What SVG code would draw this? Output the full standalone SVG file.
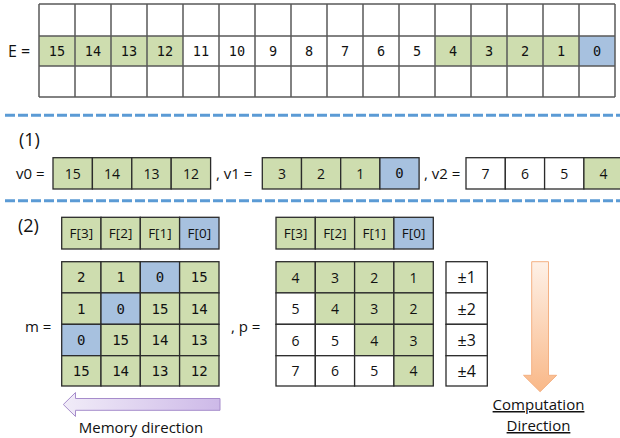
<svg xmlns="http://www.w3.org/2000/svg" width="620" height="438" viewBox="0 0 620 438">
  <style>
    .lbl { font-family: "Open Sans", "Noto Sans", sans-serif; fill: #111; }
    .mono { font-family: "DejaVu Sans Mono", "Liberation Mono", monospace; fill: #111; text-anchor: middle; }
    .num { font-family: "Open Sans", "Noto Sans", sans-serif; fill: #111; text-anchor: middle; font-size: 14px; }
    .fl { font-size: 13.5px; }
    .pm { font-size: 16px; }
    .g { fill: #CEDDAF; }
    .b { fill: #A7C1DF; }
    .w { fill: #FFFFFF; }
    .grid { fill: none; stroke: #5A5A5A; stroke-width: 1.5; }
    .box { stroke: #2B2B2B; stroke-width: 1.3; }
    .sep { stroke: #5B9BD5; stroke-width: 3; stroke-dasharray: 10 3; fill: none; }
  </style>
  <defs>
    <linearGradient id="memGrad" x1="0" y1="0" x2="1" y2="0">
      <stop offset="0" stop-color="#F1ECF8"/>
      <stop offset="1" stop-color="#CDB9E8"/>
    </linearGradient>
    <linearGradient id="compGrad" x1="0" y1="0" x2="0" y2="1">
      <stop offset="0" stop-color="#FEF1E7"/>
      <stop offset="1" stop-color="#F9B888"/>
    </linearGradient>
  </defs>

  <rect width="620" height="438" fill="#FFFFFF"/>

  <!-- E array: 16 columns x 3 rows -->
  <g id="arrayE">
    <text class="lbl" x="8" y="57" font-size="16">E =</text>
    <rect class="g" x="39" y="36" width="144" height="30"/>
    <rect class="g" x="435" y="36" width="144" height="30"/>
    <rect class="b" x="579" y="36" width="36" height="30"/>
    <path class="grid" d="M39 4H615M39 36H615M39 66H615M39 97H615
      M39 4V97M75 4V97M111 4V97M147 4V97M183 4V97M219 4V97M255 4V97M291 4V97
      M327 4V97M363 4V97M399 4V97M435 4V97M471 4V97M507 4V97M543 4V97M579 4V97M615 4V97"/>
    <g font-size="13.5">
      <text class="mono" x="57" y="56">15</text>
      <text class="mono" x="93" y="56">14</text>
      <text class="mono" x="129" y="56">13</text>
      <text class="mono" x="165" y="56">12</text>
      <text class="mono" x="201" y="56">11</text>
      <text class="mono" x="237" y="56">10</text>
      <text class="mono" x="273" y="56">9</text>
      <text class="mono" x="309" y="56">8</text>
      <text class="mono" x="345" y="56">7</text>
      <text class="mono" x="381" y="56">6</text>
      <text class="mono" x="417" y="56">5</text>
      <text class="mono" x="453" y="56">4</text>
      <text class="mono" x="489" y="56">3</text>
      <text class="mono" x="525" y="56">2</text>
      <text class="mono" x="561" y="56">1</text>
      <text class="mono" x="597" y="56">0</text>
    </g>
  </g>

  <!-- section separators -->
  <g id="separators">
    <line class="sep" x1="5" y1="115.3" x2="620" y2="115.3"/>
    <line class="sep" x1="5" y1="200.7" x2="620" y2="200.7"/>
  </g>

  <!-- (1) vectors -->
  <g id="step1">
    <text class="lbl" x="19" y="146" font-size="18">(1)</text>
    <text class="lbl" x="16" y="178.5" font-size="15">v0 =</text>
    <text class="lbl" x="216" y="178.5" font-size="15">, v1 =</text>
    <text class="lbl" x="424" y="178.5" font-size="15">, v2 =</text>
  </g>
  <g id="v0">
    <rect class="g box" x="53" y="157.7" width="39.4" height="31.3"/>
    <rect class="g box" x="92.4" y="157.7" width="39.4" height="31.3"/>
    <rect class="g box" x="131.8" y="157.7" width="39.4" height="31.3"/>
    <rect class="g box" x="171.2" y="157.7" width="39.4" height="31.3"/>
    <text class="num" x="72.7" y="178.5">15</text>
    <text class="num" x="112.1" y="178.5">14</text>
    <text class="num" x="151.5" y="178.5">13</text>
    <text class="num" x="190.9" y="178.5">12</text>
  </g>
  <g id="v1">
    <rect class="g box" x="262.3" y="157.7" width="39.2" height="31.3"/>
    <rect class="g box" x="301.5" y="157.7" width="39.2" height="31.3"/>
    <rect class="g box" x="340.7" y="157.7" width="39.2" height="31.3"/>
    <rect class="b box" x="379.9" y="157.7" width="39.2" height="31.3"/>
    <text class="num" x="281.9" y="178.5">3</text>
    <text class="num" x="321.1" y="178.5">2</text>
    <text class="num" x="360.3" y="178.5">1</text>
    <text class="mono" x="399.5" y="178" font-size="14">0</text>
  </g>
  <g id="v2">
    <rect class="w box" x="466" y="157.7" width="39.3" height="31.3"/>
    <rect class="w box" x="505.3" y="157.7" width="39.3" height="31.3"/>
    <rect class="w box" x="544.6" y="157.7" width="39.3" height="31.3"/>
    <rect class="g box" x="583.9" y="157.7" width="39.3" height="31.3"/>
    <text class="num" x="485.6" y="178.5">7</text>
    <text class="num" x="524.9" y="178.5">6</text>
    <text class="num" x="564.2" y="178.5">5</text>
    <text class="num" x="603.5" y="178.5">4</text>
  </g>

  <!-- (2) matrices -->
  <g id="step2">
    <text class="lbl" x="18" y="232" font-size="18">(2)</text>
    <text class="lbl" x="25" y="331.5" font-size="15">m =</text>
    <text class="lbl" x="231" y="331.5" font-size="15">, p =</text>
  </g>

  <g id="filtersM">
    <rect class="g box" x="61.7" y="217.3" width="39.3" height="31.7"/>
    <rect class="g box" x="101" y="217.3" width="39.3" height="31.7"/>
    <rect class="g box" x="140.3" y="217.3" width="39.3" height="31.7"/>
    <rect class="b box" x="179.6" y="217.3" width="39.4" height="31.7"/>
    <text class="num fl" x="81.3" y="238">F[3]</text>
    <text class="num fl" x="120.6" y="238">F[2]</text>
    <text class="num fl" x="159.9" y="238">F[1]</text>
    <text class="num fl" x="199.3" y="238">F[0]</text>
  </g>

  <g id="matrixM" font-size="14">
    <rect class="g box" x="61.7" y="261.7" width="39.3" height="31.2"/>
    <rect class="g box" x="101" y="261.7" width="39.3" height="31.2"/>
    <rect class="b box" x="140.3" y="261.7" width="39.3" height="31.2"/>
    <rect class="g box" x="179.6" y="261.7" width="39.4" height="31.2"/>
    <rect class="g box" x="61.7" y="292.9" width="39.3" height="31.4"/>
    <rect class="b box" x="101" y="292.9" width="39.3" height="31.4"/>
    <rect class="g box" x="140.3" y="292.9" width="39.3" height="31.4"/>
    <rect class="g box" x="179.6" y="292.9" width="39.4" height="31.4"/>
    <rect class="b box" x="61.7" y="324.3" width="39.3" height="31.4"/>
    <rect class="g box" x="101" y="324.3" width="39.3" height="31.4"/>
    <rect class="g box" x="140.3" y="324.3" width="39.3" height="31.4"/>
    <rect class="g box" x="179.6" y="324.3" width="39.4" height="31.4"/>
    <rect class="g box" x="61.7" y="355.7" width="39.3" height="30.3"/>
    <rect class="g box" x="101" y="355.7" width="39.3" height="30.3"/>
    <rect class="g box" x="140.3" y="355.7" width="39.3" height="30.3"/>
    <rect class="g box" x="179.6" y="355.7" width="39.4" height="30.3"/>
    <text class="mono" x="81.3" y="282">2</text>
    <text class="mono" x="120.6" y="282">1</text>
    <text class="mono" x="159.9" y="282">0</text>
    <text class="mono" x="199.3" y="282">15</text>
    <text class="mono" x="81.3" y="313.5">1</text>
    <text class="mono" x="120.6" y="313.5">0</text>
    <text class="mono" x="159.9" y="313.5">15</text>
    <text class="mono" x="199.3" y="313.5">14</text>
    <text class="mono" x="81.3" y="345">0</text>
    <text class="mono" x="120.6" y="345">15</text>
    <text class="mono" x="159.9" y="345">14</text>
    <text class="mono" x="199.3" y="345">13</text>
    <text class="mono" x="81.3" y="375.8">15</text>
    <text class="mono" x="120.6" y="375.8">14</text>
    <text class="mono" x="159.9" y="375.8">13</text>
    <text class="mono" x="199.3" y="375.8">12</text>
  </g>

  <g id="filtersP">
    <rect class="g box" x="276" y="217.3" width="39.3" height="31.7"/>
    <rect class="g box" x="315.3" y="217.3" width="39.3" height="31.7"/>
    <rect class="g box" x="354.6" y="217.3" width="39.3" height="31.7"/>
    <rect class="b box" x="393.9" y="217.3" width="39.4" height="31.7"/>
    <text class="num fl" x="295.6" y="238">F[3]</text>
    <text class="num fl" x="334.9" y="238">F[2]</text>
    <text class="num fl" x="374.2" y="238">F[1]</text>
    <text class="num fl" x="413.6" y="238">F[0]</text>
  </g>

  <g id="matrixP">
    <rect class="g box" x="276" y="261.7" width="39.3" height="31.2"/>
    <rect class="g box" x="315.3" y="261.7" width="39.3" height="31.2"/>
    <rect class="g box" x="354.6" y="261.7" width="39.3" height="31.2"/>
    <rect class="g box" x="393.9" y="261.7" width="39.4" height="31.2"/>
    <rect class="w box" x="276" y="292.9" width="39.3" height="31.4"/>
    <rect class="g box" x="315.3" y="292.9" width="39.3" height="31.4"/>
    <rect class="g box" x="354.6" y="292.9" width="39.3" height="31.4"/>
    <rect class="g box" x="393.9" y="292.9" width="39.4" height="31.4"/>
    <rect class="w box" x="276" y="324.3" width="39.3" height="31.4"/>
    <rect class="w box" x="315.3" y="324.3" width="39.3" height="31.4"/>
    <rect class="g box" x="354.6" y="324.3" width="39.3" height="31.4"/>
    <rect class="g box" x="393.9" y="324.3" width="39.4" height="31.4"/>
    <rect class="w box" x="276" y="355.7" width="39.3" height="30.3"/>
    <rect class="w box" x="315.3" y="355.7" width="39.3" height="30.3"/>
    <rect class="w box" x="354.6" y="355.7" width="39.3" height="30.3"/>
    <rect class="g box" x="393.9" y="355.7" width="39.4" height="30.3"/>
    <text class="num" x="295.6" y="282.5">4</text>
    <text class="num" x="334.9" y="282.5">3</text>
    <text class="num" x="374.2" y="282.5">2</text>
    <text class="num" x="413.6" y="282.5">1</text>
    <text class="num" x="295.6" y="314">5</text>
    <text class="num" x="334.9" y="314">4</text>
    <text class="num" x="374.2" y="314">3</text>
    <text class="num" x="413.6" y="314">2</text>
    <text class="num" x="295.6" y="345.5">6</text>
    <text class="num" x="334.9" y="345.5">5</text>
    <text class="num" x="374.2" y="345.5">4</text>
    <text class="num" x="413.6" y="345.5">3</text>
    <text class="num" x="295.6" y="376">7</text>
    <text class="num" x="334.9" y="376">6</text>
    <text class="num" x="374.2" y="376">5</text>
    <text class="num" x="413.6" y="376">4</text>
  </g>

  <g id="offsets">
    <rect class="w box" x="446" y="261.7" width="41.3" height="31.2"/>
    <rect class="w box" x="446" y="292.9" width="41.3" height="31.4"/>
    <rect class="w box" x="446" y="324.3" width="41.3" height="31.4"/>
    <rect class="w box" x="446" y="355.7" width="41.3" height="30.3"/>
    <text class="num pm" x="466.7" y="283">±1</text>
    <text class="num pm" x="466.7" y="314.5">±2</text>
    <text class="num pm" x="466.7" y="346">±3</text>
    <text class="num pm" x="466.7" y="376.5">±4</text>
  </g>

  <!-- direction arrows -->
  <g id="memoryArrow">
    <path d="M63.3 404.5L75.5 392.5V398.5H220V410.3H75.5V416.5Z" fill="url(#memGrad)" stroke="#A68CCB" stroke-width="1"/>
    <text class="lbl" x="141" y="433" font-size="15" text-anchor="middle">Memory direction</text>
  </g>
  <g id="computationArrow">
    <path d="M531.7 261.7H548.5V375.3H556.7L540.1 391.7L523.5 375.3H531.7Z" fill="url(#compGrad)" stroke="#F4B183" stroke-width="1"/>
    <text class="lbl" x="538.5" y="410" font-size="15" text-anchor="middle" text-decoration="underline">Computation</text>
    <text class="lbl" x="538.5" y="431" font-size="15" text-anchor="middle" text-decoration="underline">Direction</text>
  </g>
</svg>
